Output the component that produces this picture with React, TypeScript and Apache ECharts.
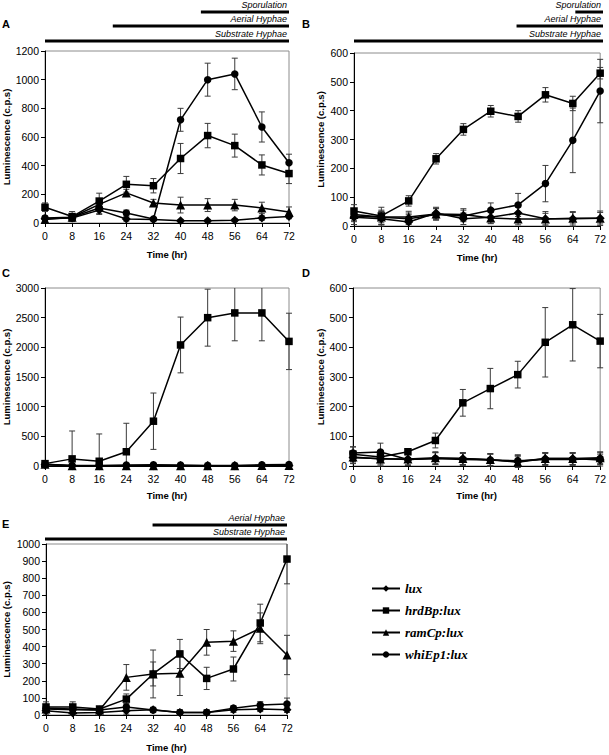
import React, { useEffect, useRef } from 'react';
import * as echarts from 'echarts';

const times = [0, 8, 16, 24, 32, 40, 48, 56, 64, 72];
const seriesNames = ['lux', 'hrdBp:lux', 'ramCp:lux', 'whiEp1:lux'];
const seriesSymbols = ['diamond', 'rect', 'triangle', 'circle'];

// Panel A
const aLux = [30, 35, 90, 28, 25, 15, 15, 20, 35, 45];
const aLuxErr = [15, 15, 30, 15, 10, 10, 10, 10, 15, 15];
const aHrdB = [110, 45, 153, 270, 260, 450, 610, 540, 405, 345];
const aHrdBErr = [30, 35, 55, 55, 50, 105, 85, 80, 70, 70];
const aRamC = [25, 40, 130, 210, 140, 125, 125, 125, 105, 77];
const aRamCErr = [15, 20, 40, 25, 25, 55, 45, 40, 40, 35];
const aWhiE = [35, 40, 105, 70, 28, 720, 1000, 1040, 670, 420];
const aWhiEErr = [15, 20, 40, 20, 10, 80, 115, 110, 105, 60];

// Panel B
const bLux = [30, 25, 14, 45, 25, 30, 45, 25, 25, 27];
const bLuxErr = [25, 25, 25, 20, 20, 20, 20, 25, 25, 25];
const bHrdB = [52, 35, 87, 233, 335, 398, 380, 455, 425, 530];
const bHrdBErr = [22, 30, 18, 18, 20, 20, 20, 25, 25, 20];
const bRamC = [40, 31, 31, 42, 40, 28, 24, 24, 27, 27];
const bRamCErr = [20, 20, 20, 20, 20, 20, 20, 20, 20, 20];
const bWhiE = [35, 30, 25, 40, 35, 55, 73, 147, 297, 468];
const bWhiEErr = [20, 25, 20, 20, 20, 25, 40, 63, 112, 110];

// Panel C
const cLux = [20, 5, 5, 5, 5, 5, 5, 5, 5, 5];
const cLuxErr = [10, 10, 10, 10, 10, 10, 10, 10, 10, 10];
const cHrdB = [40, 120, 80, 240, 755, 2040, 2500, 2580, 2580, 2100];
const cHrdBErr = [20, 470, 460, 480, 475, 470, 480, 470, 470, 475];
const cRamC = [30, 5, 5, 5, 5, 5, 5, 5, 10, 10];
const cRamCErr = [10, 10, 10, 10, 10, 10, 10, 10, 10, 10];
const cWhiE = [30, 10, 10, 15, 20, 15, 10, 10, 20, 25];
const cWhiEErr = [10, 10, 10, 10, 10, 10, 10, 10, 10, 10];

// Panel D
const dLux = [28, 25, 22, 25, 25, 20, 15, 25, 25, 20];
const dLuxErr = [20, 25, 20, 20, 20, 20, 20, 20, 20, 20];
const dHrdB = [40, 30, 48, 86, 213, 261, 308, 417, 476, 421];
const dHrdBErr = [25, 20, 10, 25, 45, 68, 45, 117, 122, 90];
const dRamC = [30, 24, 24, 28, 25, 22, 13, 25, 25, 28];
const dRamCErr = [20, 20, 20, 20, 20, 20, 20, 20, 20, 20];
const dWhiE = [44, 47, 22, 25, 22, 20, 18, 22, 22, 25];
const dWhiEErr = [20, 30, 20, 20, 20, 20, 20, 20, 20, 20];

// Panel E
const eLux = [25, 12, 15, 25, 30, 15, 15, 30, 35, 30];
const eLuxErr = [20, 15, 15, 20, 15, 15, 15, 15, 15, 15];
const eHrdB = [47, 47, 35, 93, 240, 357, 214, 269, 538, 912];
const eHrdBErr = [30, 30, 15, 30, 140, 85, 65, 70, 110, 145];
const eRamC = [35, 30, 29, 220, 240, 244, 425, 432, 507, 351];
const eRamCErr = [20, 20, 15, 75, 70, 130, 75, 60, 90, 115];
const eWhiE = [40, 35, 29, 47, 29, 15, 15, 40, 58, 64];
const eWhiEErr = [20, 20, 15, 20, 15, 15, 15, 15, 20, 35];

// Axis ranges
const yMaxes = [1200, 600, 3000, 600, 1000];
const yIntervals = [200, 100, 500, 100, 100];
const panelLabels = ['A', 'B', 'C', 'D', 'E'];

// Growth stages: [name, start hour]
const stagesA: [string, number][] = [['Sporulation', 46], ['Aerial Hyphae', 20], ['Substrate Hyphae', 0]];
const stagesB: [string, number][] = [['Sporulation', 64], ['Aerial Hyphae', 47], ['Substrate Hyphae', 0]];
const stagesE: [string, number][] = [['Aerial Hyphae', 32], ['Substrate Hyphae', 0]];

const panels = [
  { vals: [aLux, aHrdB, aRamC, aWhiE], errs: [aLuxErr, aHrdBErr, aRamCErr, aWhiEErr] },
  { vals: [bLux, bHrdB, bRamC, bWhiE], errs: [bLuxErr, bHrdBErr, bRamCErr, bWhiEErr] },
  { vals: [cLux, cHrdB, cRamC, cWhiE], errs: [cLuxErr, cHrdBErr, cRamCErr, cWhiEErr] },
  { vals: [dLux, dHrdB, dRamC, dWhiE], errs: [dLuxErr, dHrdBErr, dRamCErr, dWhiEErr] },
  { vals: [eLux, eHrdB, eRamC, eWhiE], errs: [eLuxErr, eHrdBErr, eRamCErr, eWhiEErr] },
];

const grids = [
  { left: 45, top: 51, width: 244, height: 172 },
  { left: 354, top: 53, width: 249, height: 173 },
  { left: 45, top: 288, width: 244, height: 178 },
  { left: 353, top: 288, width: 250, height: 178 },
  { left: 45, top: 544, width: 242, height: 171 },
];
const yNameGaps = [34, 29, 34, 28, 35];
const xNameGaps = [26, 26, 24, 24, 27];
const labelPos = [[2, 18], [302, 18], [2, 267], [302, 267], [2, 518]];

const SANS = 'Liberation Sans, Arial, sans-serif';
const SERIF = 'Liberation Serif, Times New Roman, serif';

function errorRender(params: any, api: any) {
  const x = api.value(0);
  const y = api.value(1);
  const e = api.value(2);
  const top = api.coord([x, y + e]);
  const bot = api.coord([x, y - e]);
  const cs = params.coordSys;
  const style = { stroke: '#3a3a3a', lineWidth: 1 };
  const hw = 3;
  let topY = top[1];
  let botY = bot[1];
  const children: any[] = [];
  if (topY < cs.y) {
    topY = cs.y;
  } else {
    children.push({ type: 'line', shape: { x1: top[0] - hw, y1: topY, x2: top[0] + hw, y2: topY }, style });
  }
  const bottomEdge = cs.y + cs.height;
  if (botY > bottomEdge + 2) {
    botY = bottomEdge;
  } else {
    children.push({ type: 'line', shape: { x1: bot[0] - hw, y1: botY, x2: bot[0] + hw, y2: botY }, style });
  }
  children.push({ type: 'line', shape: { x1: top[0], y1: topY, x2: bot[0], y2: botY }, style });
  return { type: 'group', children };
}

function stageGraphics(stages: [string, number][], g: any, barYs: number[]) {
  const out: any[] = [];
  const right = g.left + g.width;
  stages.forEach((s, i) => {
    const x0 = g.left + (s[1] / 72) * g.width;
    const y = barYs[i];
    out.push({ type: 'rect', shape: { x: x0, y: y - 1.5, width: right - x0, height: 3 }, style: { fill: '#000' } });
    out.push({
      type: 'text', x: right - 2, y: y - 3,
      style: { text: s[0], fill: '#000', font: `italic 9px ${SANS}`, textAlign: 'right', textVerticalAlign: 'bottom' },
    });
  });
  return out;
}

export default function App() {
  const ref = useRef<HTMLDivElement>(null);
  useEffect(() => {
    document.body.style.margin = '0';
    const chart = echarts.init(ref.current!, null, { renderer: 'svg' });
    const grid = grids.map((g) => ({ ...g, show: true, borderColor: '#8c8c8c', borderWidth: 1, containLabel: false }));
    const xAxis = grids.map((_, i) => ({
      gridIndex: i, type: 'value', min: 0, max: 72, interval: 8,
      name: 'Time (hr)', nameLocation: 'middle', nameGap: xNameGaps[i],
      nameTextStyle: { fontWeight: 'bold', fontSize: 9.5, fontFamily: SANS, color: '#000' },
      axisLine: { show: true, lineStyle: { color: '#000', width: 1 } },
      axisTick: { show: true, length: 4, lineStyle: { color: '#000' } },
      axisLabel: { fontSize: 10.5, fontFamily: SANS, color: '#000', margin: 7, formatter: (v: number) => String(v) },
      splitLine: { show: false },
    }));
    const yAxis = grids.map((_, i) => ({
      gridIndex: i, type: 'value', min: 0, max: yMaxes[i], interval: yIntervals[i],
      name: 'Luminescence (c.p.s)', nameLocation: 'middle', nameGap: yNameGaps[i],
      nameTextStyle: { fontWeight: 'bold', fontSize: 9.5, fontFamily: SANS, color: '#000' },
      axisLine: { show: true, lineStyle: { color: '#000', width: 1 } },
      axisTick: { show: true, length: 4, lineStyle: { color: '#000' } },
      axisLabel: { fontSize: 10.5, fontFamily: SANS, color: '#000', margin: 6, formatter: (v: number) => String(v) },
      splitLine: { show: false },
    }));
    const series: any[] = [];
    panels.forEach((p, gi) => {
      p.vals.forEach((vals, si) => {
        series.push({
          type: 'custom', xAxisIndex: gi, yAxisIndex: gi, renderItem: errorRender,
          data: times.map((t, k) => [t, vals[k], p.errs[si][k]]), z: 1, silent: true,
        });
      });
      p.vals.forEach((vals, si) => {
        series.push({
          type: 'line', name: seriesNames[si], xAxisIndex: gi, yAxisIndex: gi,
          data: times.map((t, k) => [t, vals[k]]),
          symbol: seriesSymbols[si], symbolSize: si === 2 ? 9 : si === 0 ? 9 : 7.5,
          lineStyle: { color: '#000', width: 1.5 }, itemStyle: { color: '#000' }, z: 3,
        });
      });
    });
    const graphic: any[] = [];
    panelLabels.forEach((l, i) => {
      graphic.push({ type: 'text', x: labelPos[i][0], y: labelPos[i][1], style: { text: l, fill: '#000', font: `bold 11px ${SANS}` } });
    });
    graphic.push(...stageGraphics(stagesA, grids[0], [12, 26, 41]));
    graphic.push(...stageGraphics(stagesB, grids[1], [12, 26, 41]));
    graphic.push(...stageGraphics(stagesE, grids[4], [525, 539]));
    chart.setOption({
      animation: false,
      backgroundColor: '#fff',
      grid, xAxis, yAxis, series, graphic,
      legend: {
        data: seriesNames, orient: 'vertical', left: 366, top: 577,
        itemWidth: 28, itemHeight: 8, itemGap: 9, selectedMode: false,
        textStyle: { fontFamily: SERIF, fontWeight: 'bold', fontStyle: 'italic', fontSize: 13, color: '#000' },
      },
    });
    return () => chart.dispose();
  }, []);
  return <div ref={ref} style={{ position: 'absolute', left: 0, top: 0, width: 609, height: 755 }} />;
}
